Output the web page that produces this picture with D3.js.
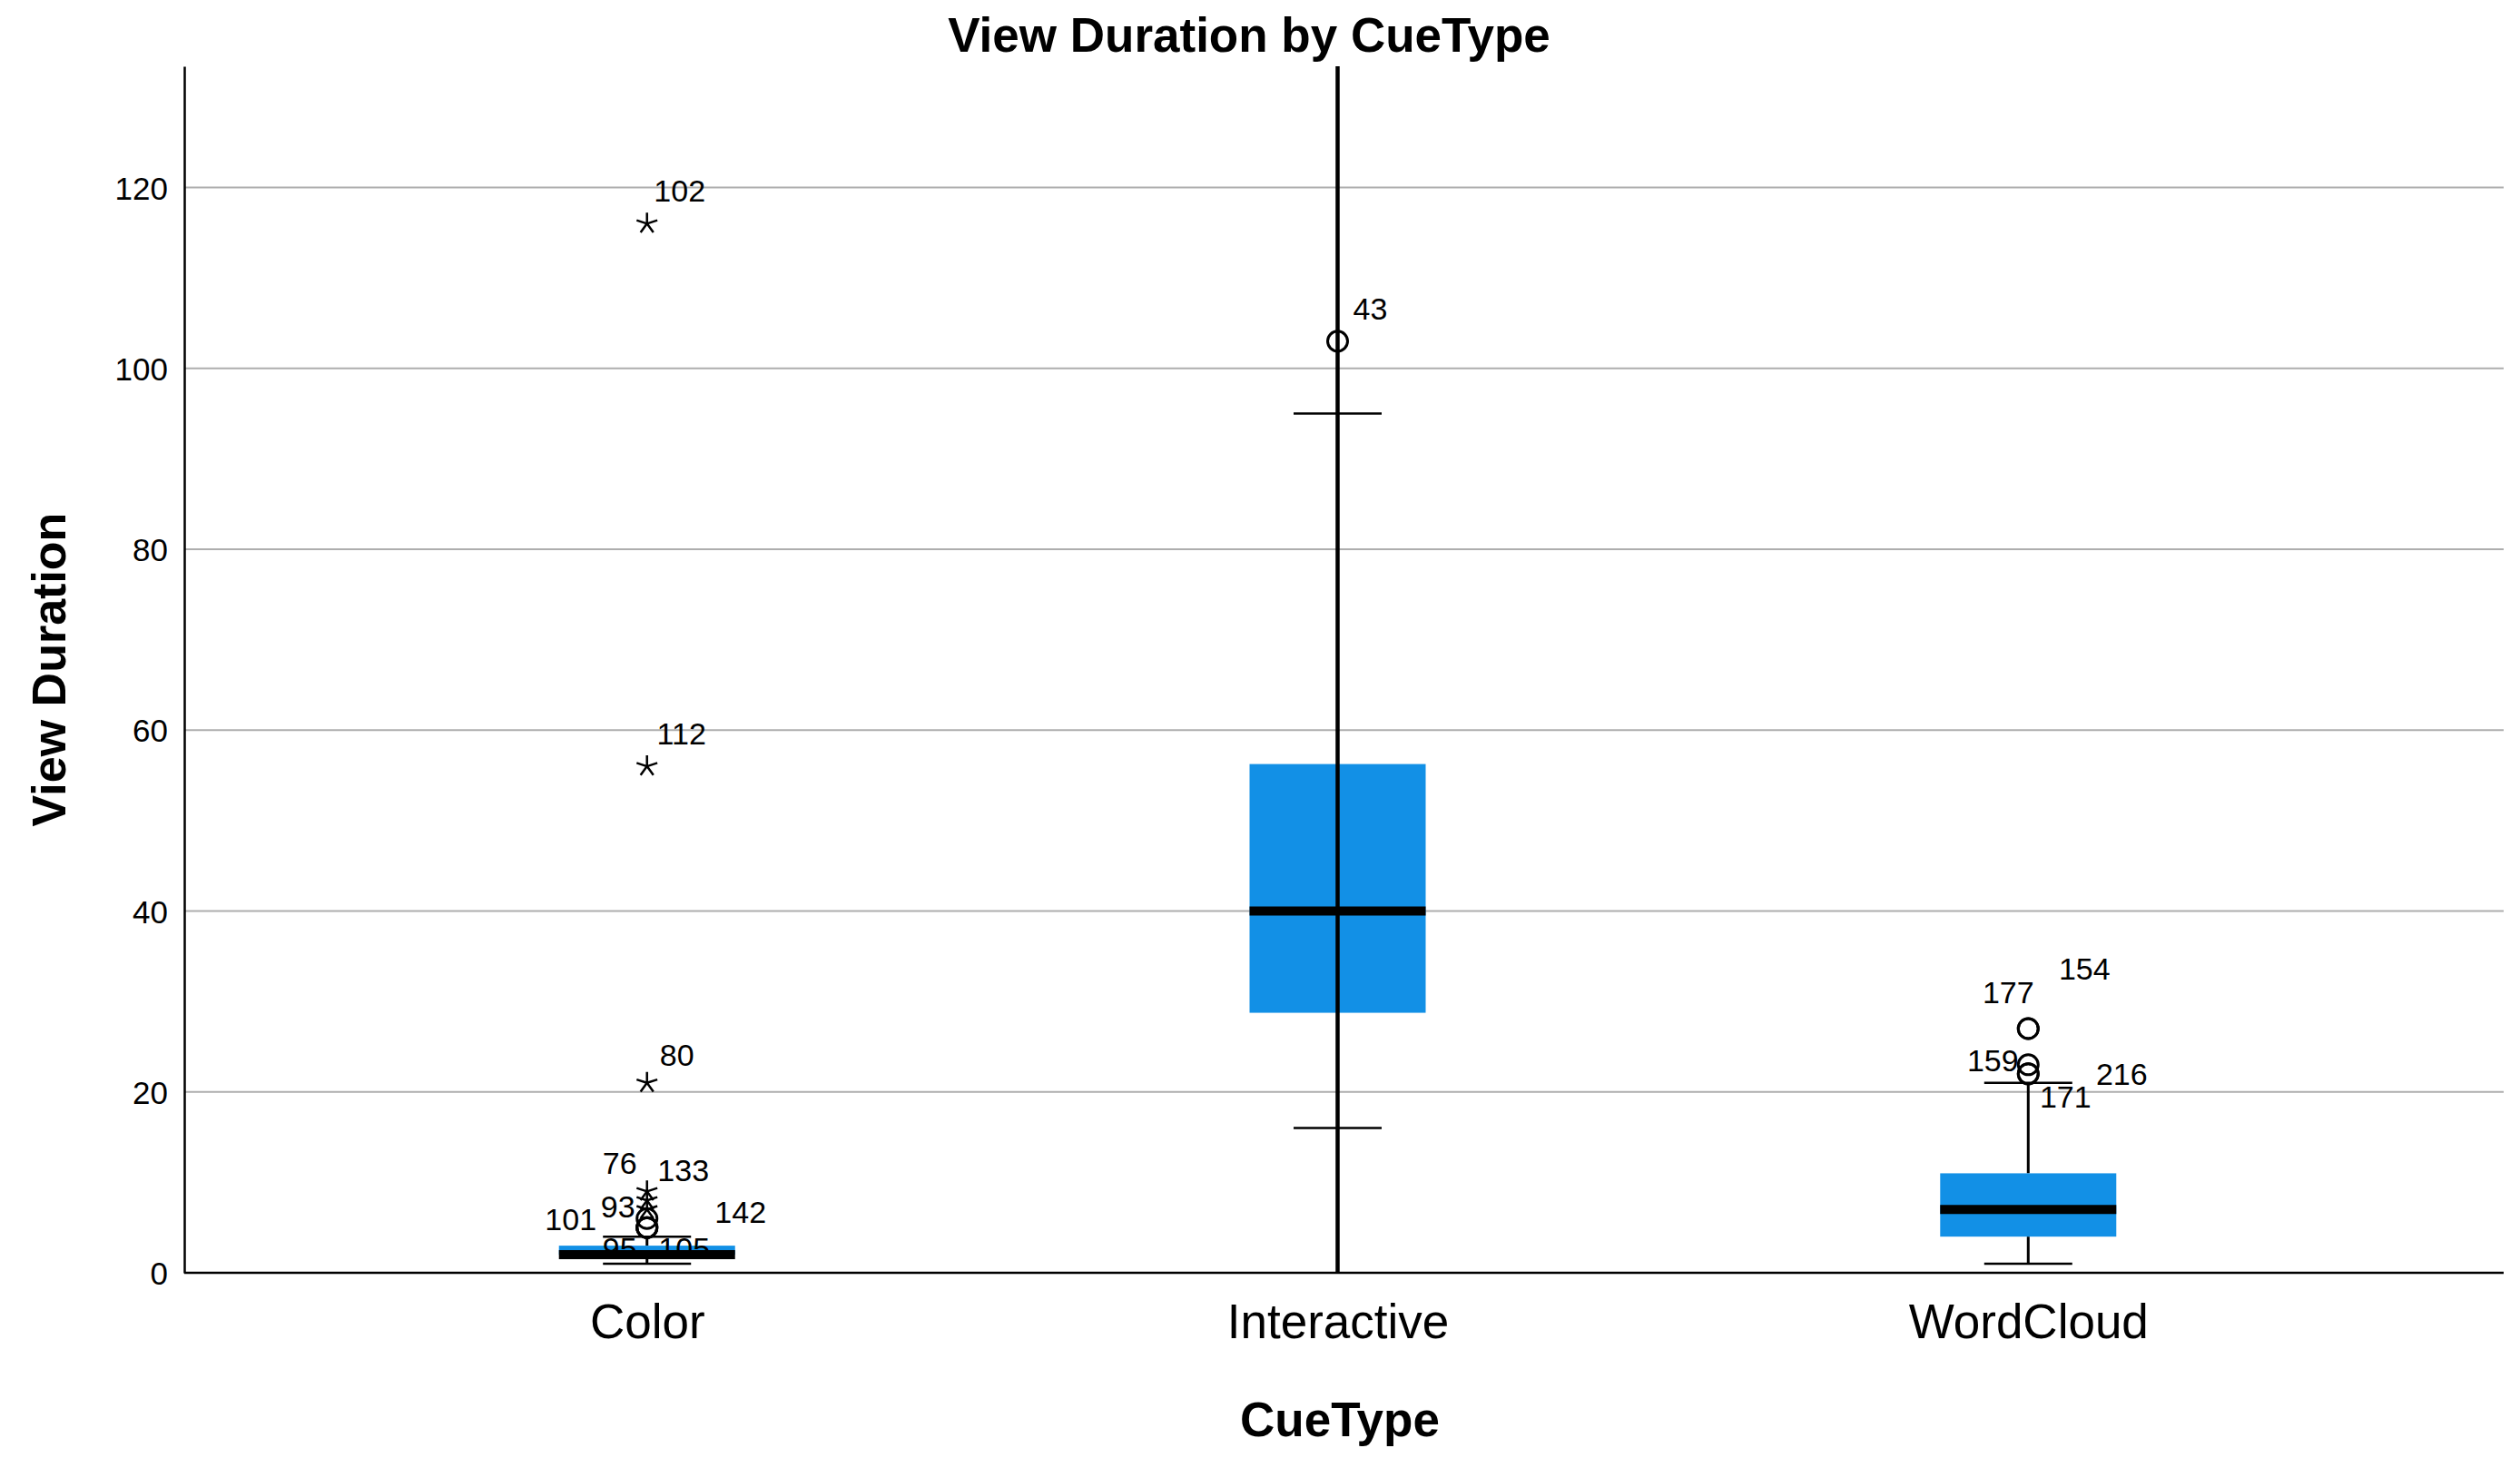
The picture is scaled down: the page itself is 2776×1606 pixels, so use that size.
<!DOCTYPE html>
<html>
<head>
<meta charset="utf-8">
<script src="https://cdn.jsdelivr.net/npm/d3@7"></script>
<style>
  body { margin: 0; background: #fff; }
  text { font-family: "Liberation Sans", Arial, sans-serif; fill: #000; }
</style>
</head>
<body>
<svg id="vis"></svg>
<script>
// box statistics, one entry per category
const categories = ["Color", "Interactive", "WordCloud"];
const lowWhisker = [1, 16, 1];
const q1 = [2, 28.75, 4];
const median = [2, 40, 7];
const q3 = [3, 56.25, 11];
const highWhisker = [4, 95, 21];

// outliers: [category, value, case id, kind]  (o = outlier, * = extreme)
const outliers = [
  ["Color", 116, "102", "*"],
  ["Color", 56, "112", "*"],
  ["Color", 21, "80", "*"],
  ["Color", 9, "76", "*"],
  ["Color", 8, "133", "*"],
  ["Color", 7, "93", "*"],
  ["Color", 6, "142", "o"],
  ["Color", 5, "101", "o"],
  ["Color", 5, "95", "o"],
  ["Color", 5, "105", "o"],
  ["Interactive", 103, "43", "o"],
  ["WordCloud", 27, "177", "o"],
  ["WordCloud", 27, "154", "o"],
  ["WordCloud", 23, "159", "o"],
  ["WordCloud", 22, "216", "o"],
  ["WordCloud", 22, "171", "o"]
];

// where SPSS put each case label, relative to its point (px)
const labelNudge = {
  "102": [36, -37], "112": [38, -36], "80": [33, -31],
  "76": [-30, -32], "133": [40, -34], "93": [-32, -4],
  "142": [103, -7], "101": [-84, -9], "95": [-30, 23], "105": [41, 23],
  "43": [36, -36],
  "177": [-22, -40], "154": [62, -66], "159": [-39, -5], "216": [103, 0], "171": [41, 25]
};

const yTicks = [0, 20, 40, 60, 80, 100, 120];
const fullSpanLine = ["Interactive"];

const W = 2776, H = 1606;
const mLeft = 203, mRight = 2758, mTop = 73, mBottom = 1402;

const svg = d3.select("#vis").attr("width", W).attr("height", H);

const x = d3.scalePoint().domain(categories).range([mLeft, 2744]).padding(0.67);
const y = d3.scaleLinear().domain([0, 133.4]).range([mBottom, mTop]);

const boxW = 194, capW = 97;
const blue = "#1290e6";

// grid
svg.append("g")
  .selectAll("line")
  .data(yTicks.filter(d => d > 0))
  .enter().append("line")
  .attr("x1", mLeft).attr("x2", mRight)
  .attr("y1", d => y(d)).attr("y2", d => y(d))
  .attr("stroke", "#aeaeae").attr("stroke-width", 2);

// y axis
const yAxis = svg.append("g")
  .attr("transform", `translate(${mLeft},0)`)
  .call(d3.axisLeft(y).tickValues(yTicks).tickSize(0).tickPadding(18));
yAxis.select(".domain").attr("stroke", "#000").attr("stroke-width", 2.5);
yAxis.selectAll("text")
  .style("font-family", "Liberation Sans, Arial, sans-serif")
  .style("font-size", "35px").attr("fill", "#000").attr("dy", "0.36em");

// x axis
const xAxis = svg.append("g")
  .attr("transform", `translate(0,${mBottom})`)
  .call(d3.axisBottom(x).tickSize(0).tickPadding(34));
xAxis.select(".domain").attr("d", `M${mLeft},0H${mRight}`)
  .attr("stroke", "#000").attr("stroke-width", 2.5);
xAxis.selectAll("text")
  .style("font-family", "Liberation Sans, Arial, sans-serif")
  .style("font-size", "53px").attr("fill", "#000").attr("dy", "0.71em");

const boxes = categories.map((c, i) => ({
  c, lo: lowWhisker[i], q1: q1[i], med: median[i], q3: q3[i], hi: highWhisker[i]
}));

const g = svg.append("g");

// whisker stems
boxes.forEach(b => {
  if (fullSpanLine.includes(b.c)) return;
  g.append("line").attr("x1", x(b.c)).attr("x2", x(b.c))
    .attr("y1", y(b.hi)).attr("y2", y(b.q3))
    .attr("stroke", "#000").attr("stroke-width", 3);
  g.append("line").attr("x1", x(b.c)).attr("x2", x(b.c))
    .attr("y1", y(b.q1)).attr("y2", y(b.lo))
    .attr("stroke", "#000").attr("stroke-width", 3);
});

// boxes
g.selectAll("rect.box")
  .data(boxes)
  .enter().append("rect")
  .attr("class", "box")
  .attr("x", d => x(d.c) - boxW / 2)
  .attr("width", boxW)
  .attr("y", d => y(d.q3))
  .attr("height", d => y(d.q1) - y(d.q3))
  .attr("fill", blue);

// the long stem that runs the full height for Interactive
fullSpanLine.forEach(c => {
  g.append("line").attr("x1", x(c)).attr("x2", x(c))
    .attr("y1", y.range()[1]).attr("y2", y.range()[0])
    .attr("stroke", "#000").attr("stroke-width", 4.5);
});

// caps
["lo", "hi"].forEach(k => {
  g.selectAll("line.cap-" + k)
    .data(boxes)
    .enter().append("line")
    .attr("x1", d => x(d.c) - capW / 2).attr("x2", d => x(d.c) + capW / 2)
    .attr("y1", d => y(d[k])).attr("y2", d => y(d[k]))
    .attr("stroke", "#000").attr("stroke-width", 2.5);
});

// medians
g.selectAll("line.median")
  .data(boxes)
  .enter().append("line")
  .attr("x1", d => x(d.c) - boxW / 2).attr("x2", d => x(d.c) + boxW / 2)
  .attr("y1", d => y(d.med)).attr("y2", d => y(d.med))
  .attr("stroke", "#000").attr("stroke-width", 10);

// outlier markers
const starPath = r => {
  let p = "";
  for (let k = 0; k < 5; k++) {
    const a = -Math.PI / 2 + k * 2 * Math.PI / 5;
    p += `M0,0L${(r * Math.cos(a)).toFixed(2)},${(r * Math.sin(a)).toFixed(2)}`;
  }
  return p;
};

const pts = svg.append("g").selectAll("g")
  .data(outliers)
  .enter().append("g")
  .attr("transform", d => `translate(${x(d[0])},${y(d[1])})`);

pts.filter(d => d[3] === "o").append("circle")
  .attr("r", 11).attr("fill", "none").attr("stroke", "#000").attr("stroke-width", 3);
pts.filter(d => d[3] === "*").append("path")
  .attr("d", starPath(12)).attr("stroke", "#000").attr("stroke-width", 2.5);

pts.append("text")
  .attr("x", d => labelNudge[d[2]][0])
  .attr("y", d => labelNudge[d[2]][1])
  .attr("text-anchor", "middle")
  .attr("dy", "0.36em")
  .style("font-size", "34px")
  .text(d => d[2]);

// titles
svg.append("text")
  .attr("x", 1376).attr("y", 57)
  .attr("text-anchor", "middle")
  .style("font-size", "53px").style("font-weight", "bold")
  .text("View Duration by CueType");

svg.append("text")
  .attr("x", 1476).attr("y", 1582)
  .attr("text-anchor", "middle")
  .style("font-size", "53px").style("font-weight", "bold")
  .text("CueType");

svg.append("text")
  .attr("transform", `translate(72,${(mTop + mBottom) / 2}) rotate(-90)`)
  .attr("text-anchor", "middle")
  .style("font-size", "52px").style("font-weight", "bold")
  .text("View Duration");
</script>
</body>
</html>
